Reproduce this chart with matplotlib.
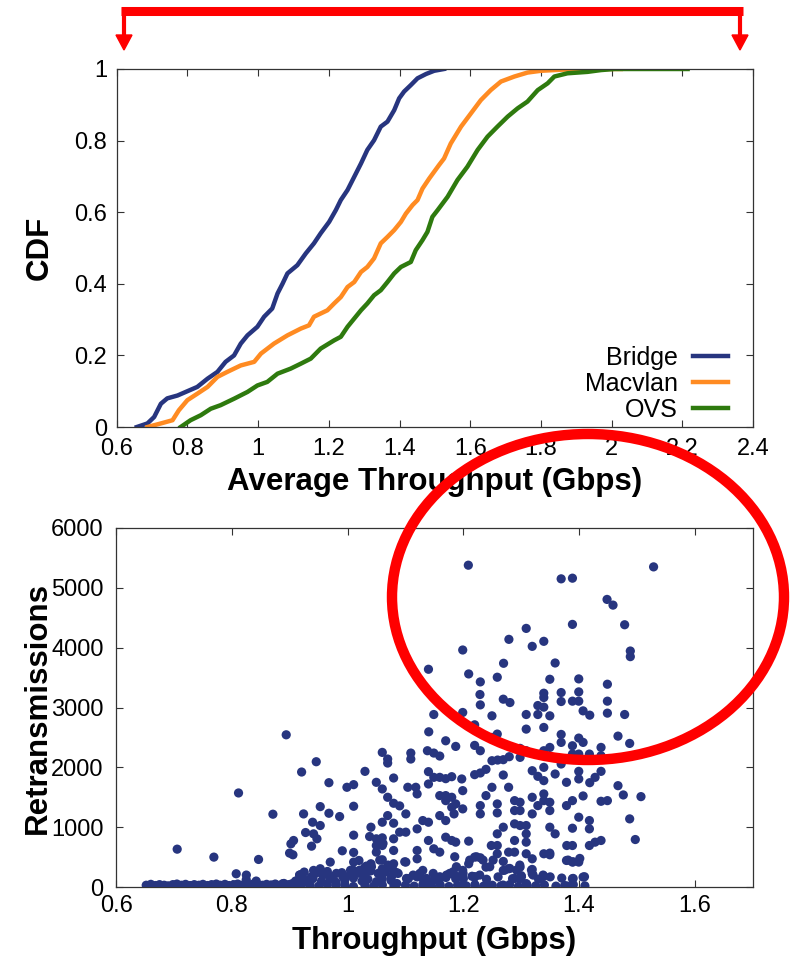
import matplotlib
matplotlib.use("Agg")
import matplotlib.pyplot as plt
from matplotlib.patches import Ellipse, Polygon
from matplotlib.ticker import FuncFormatter

plt.rcParams["font.family"] = ["Liberation Sans", "DejaVu Sans"]

# CDF curves: throughput (Gbps) read at cumulative levels
bridge_tput = [0.657, 0.687, 0.706, 0.725, 0.743, 0.772, 0.800, 0.828, 0.857, 0.885, 0.908,
               0.932, 0.951, 0.970, 0.998, 1.017, 1.040, 1.055, 1.069, 1.083, 1.111, 1.135,
               1.158, 1.177, 1.201, 1.220, 1.234, 1.253, 1.272, 1.291, 1.309, 1.328, 1.347,
               1.366, 1.385, 1.399, 1.413, 1.432, 1.451, 1.475, 1.498, 1.526]
bridge_cdf = [0.0, 0.010, 0.028, 0.065, 0.080, 0.088, 0.100, 0.112, 0.135, 0.154, 0.182,
              0.200, 0.233, 0.256, 0.280, 0.308, 0.331, 0.373, 0.400, 0.429, 0.452, 0.485,
              0.513, 0.541, 0.573, 0.606, 0.634, 0.662, 0.699, 0.736, 0.774, 0.801, 0.839,
              0.853, 0.885, 0.918, 0.937, 0.955, 0.974, 0.986, 0.995, 1.0]

macvlan_tput = [0.687, 0.725, 0.758, 0.776, 0.800, 0.828, 0.857, 0.885, 0.913, 0.951, 0.989,
                1.008, 1.045, 1.083, 1.121, 1.144, 1.158, 1.196, 1.215, 1.234, 1.253, 1.272,
                1.291, 1.309, 1.328, 1.347, 1.366, 1.385, 1.404, 1.418, 1.437, 1.451, 1.465,
                1.484, 1.498, 1.512, 1.526, 1.545, 1.574, 1.602, 1.630, 1.658, 1.687, 1.725,
                1.762, 1.800, 1.857, 1.932, 2.026]
macvlan_cdf = [0.0, 0.010, 0.019, 0.047, 0.075, 0.093, 0.112, 0.140, 0.154, 0.172, 0.182,
               0.205, 0.233, 0.256, 0.275, 0.284, 0.308, 0.326, 0.345, 0.363, 0.391, 0.405,
               0.433, 0.447, 0.471, 0.513, 0.531, 0.550, 0.573, 0.596, 0.620, 0.634, 0.666,
               0.694, 0.713, 0.732, 0.750, 0.792, 0.839, 0.876, 0.913, 0.941, 0.965, 0.979,
               0.990, 0.995, 0.998, 1.0, 1.0]

ovs_tput = [0.781, 0.809, 0.838, 0.866, 0.894, 0.932, 0.970, 0.998, 1.026, 1.055, 1.092,
            1.121, 1.149, 1.177, 1.215, 1.234, 1.253, 1.272, 1.291, 1.309, 1.328, 1.347,
            1.366, 1.385, 1.404, 1.432, 1.446, 1.465, 1.479, 1.493, 1.508, 1.536, 1.564,
            1.592, 1.621, 1.649, 1.677, 1.706, 1.734, 1.762, 1.791, 1.819, 1.838, 1.875,
            1.932, 1.970, 2.008, 2.215]
ovs_cdf = [0.0, 0.019, 0.033, 0.051, 0.061, 0.079, 0.098, 0.116, 0.126, 0.149, 0.163,
           0.177, 0.191, 0.219, 0.242, 0.252, 0.280, 0.303, 0.326, 0.345, 0.368, 0.382,
           0.405, 0.429, 0.447, 0.461, 0.494, 0.522, 0.545, 0.587, 0.606, 0.643, 0.690,
           0.727, 0.774, 0.811, 0.839, 0.867, 0.890, 0.909, 0.941, 0.960, 0.979, 0.988,
           0.992, 0.997, 1.0, 1.0]

# scatter: bridge runs, throughput (Gbps) vs retransmissions
scatter_points = [
    # sparse left part
    (0.7055, 633), (0.7689, 500), (0.8115, 1572), (0.8461, 461), (0.8709, 1217),
    (0.8939, 2544), (0.9066, 778), (0.9020, 722), (0.8997, 567), (0.9055, 539),
    (0.8075, 222), (0.8248, 122), (0.8420, 100), (0.9205, 211), (0.8880, 56), (0.9040, 56),
    (0.8250, 200), (0.9170, 200),
    # 0.92 - 1.09
    (0.9205, 1922), (0.9458, 2094), (0.9677, 1744), (0.9239, 1222), (0.9527, 1344),
    (0.9395, 1083), (0.9527, 1028), (0.9274, 911), (0.9412, 889), (0.9470, 806),
    (0.9377, 683), (0.9677, 1233), (0.9862, 1178), (0.9988, 1667), (1.0104, 1711),
    (1.0104, 1350), (1.0104, 867), (0.9908, 606), (1.0104, 578), (1.0300, 1933),
    (1.0496, 1750), (1.0599, 1639), (1.0692, 1500), (1.0795, 1822), (1.0795, 1400),
    (1.0899, 1356), (1.0692, 2072), (1.0599, 2250), (1.0692, 2139), (1.0403, 1000),
    (1.0599, 1083), (1.0692, 1194), (1.0795, 1067), (1.0899, 917), (1.0380, 844),
    (1.0496, 806), (1.0599, 822), (1.0496, 694), (1.0599, 694), (1.0795, 806),
    (1.0795, 611), (1.0795, 389), (1.0496, 583), (1.0599, 456), (1.0599, 306),
    (1.0403, 389), (1.0104, 417), (1.0196, 444), (1.0300, 333), (1.0104, 222),
    (0.9700, 417), (0.9527, 306), (0.9412, 278), (0.9585, 222), (1.0612, 728),
    (1.0699, 367), (1.0785, 283), (1.0094, 283), (1.0325, 350), (1.0555, 450),
    # 1.09 - 1.55
    (1.2086, 5378), (1.5287, 5350), (1.3690, 5150), (1.3885, 5161), (1.4483, 4806),
    (1.4586, 4711), (1.3885, 4389), (1.4787, 4383), (1.3086, 4322), (1.2787, 4139),
    (1.3390, 4106), (1.3190, 4022), (1.1989, 3961), (1.4885, 3944), (1.4885, 3850),
    (1.1397, 3639), (1.2695, 3739), (1.3586, 3744), (1.2092, 3561), (1.2586, 3506),
    (1.2293, 3428), (1.3494, 3472), (1.3994, 3478), (1.4489, 3389), (1.2287, 3217),
    (1.2293, 3044), (1.3390, 3239), (1.3390, 3167), (1.3690, 3250), (1.3690, 3100),
    (1.3994, 3261), (1.3885, 3106), (1.3994, 3106), (1.2690, 3139), (1.2805, 3083),
    (1.4489, 3106), (1.4489, 2906), (1.4787, 2883), (1.3287, 3033), (1.3390, 3006),
    (1.4069, 2944), (1.4184, 2872), (1.1489, 2883), (1.1989, 2917), (1.2494, 2861),
    (1.3086, 2883), (1.3287, 2883), (1.3494, 2861), (1.3390, 2667), (1.3086, 2639),
    (1.2195, 2711), (1.1402, 2594), (1.1695, 2444), (1.1868, 2350), (1.2195, 2367),
    (1.2293, 2278), (1.2586, 2556), (1.2494, 2500), (1.3690, 2550), (1.3690, 2417),
    (1.3994, 2489), (1.3885, 2361), (1.4069, 2417), (1.3885, 2222), (1.3994, 2222),
    (1.4178, 2222), (1.4379, 2333), (1.4379, 2194), (1.4672, 2522), (1.4874, 2400),
    (1.2980, 2317), (1.2980, 2167), (1.3086, 2278), (1.3390, 2278), (1.3494, 2333),
    (1.1092, 2239), (1.1092, 2139), (1.1379, 2278), (1.1489, 2239), (1.1592, 2189),
    (1.1397, 1928), (1.1489, 1833), (1.1592, 1833), (1.1695, 1811), (1.1799, 1844),
    (1.1972, 1806), (1.2195, 1878), (1.2293, 1906), (1.2391, 1967), (1.2494, 2111),
    (1.2592, 2122), (1.2690, 2128), (1.2793, 2178), (1.2690, 1872), (1.3190, 1944),
    (1.3287, 1850), (1.3390, 2000), (1.3390, 1778), (1.3586, 1889), (1.3690, 2056),
    (1.3782, 1750), (1.3994, 1933), (1.3994, 1806), (1.4184, 1744), (1.4276, 1833),
    (1.4379, 1933), (1.4672, 1694), (1.4764, 1539), (1.5069, 1511), (1.4874, 1139),
    (1.4971, 794), (1.4489, 1444), (1.4379, 1433), (1.4069, 1522), (1.3885, 1444),
    (1.3782, 1361), (1.3994, 1167), (1.3885, 983), (1.4178, 1111), (1.4178, 972),
    (1.4178, 694), (1.4276, 750), (1.4379, 778), (1.3787, 694), (1.3885, 694),
    (1.3782, 444), (1.3885, 417), (1.3994, 417), (1.3885, 139), (1.4069, 167),
    (1.3390, 178), (1.3390, 556), (1.3494, 539), (1.3190, 472), (1.3190, 294),
    (1.3190, 222), (1.3086, 56), (1.2980, 333), (1.2980, 139), (1.3494, 1000),
    (1.3586, 889), (1.3390, 1556), (1.3390, 1444), (1.3287, 1361), (1.3190, 1500),
    (1.3190, 1222), (1.3494, 1417), (1.3494, 1278), (1.2885, 1444), (1.2980, 1417),
    (1.2885, 1278), (1.2980, 1278), (1.2885, 1056), (1.2980, 1028), (1.3086, 1028),
    (1.3086, 889), (1.3086, 750), (1.3086, 556), (1.2885, 778), (1.2782, 1667),
    (1.2494, 1667), (1.2391, 1528), (1.2293, 1361), (1.2293, 1222), (1.2586, 1389),
    (1.2586, 1239), (1.2690, 1000), (1.2586, 889), (1.2483, 694), (1.2586, 694),
    (1.2586, 556), (1.2782, 583), (1.2885, 583), (1.2690, 428), (1.2690, 278),
    (1.2782, 306), (1.2391, 333), (1.2195, 500), (1.2293, 489), (1.2092, 389),
    (1.1989, 278), (1.2092, 767), (1.1868, 750), (1.1799, 778), (1.1695, 833),
    (1.1989, 1611), (1.1799, 1500), (1.1695, 1528), (1.1592, 1528), (1.1695, 1444),
    (1.1799, 1333), (1.1868, 1389), (1.1989, 1306), (1.1839, 1222), (1.1695, 1111),
    (1.1592, 1194), (1.1397, 1083), (1.1299, 1111), (1.1201, 972), (1.1006, 917),
    (1.1006, 1222), (1.1040, 1667), (1.1178, 1667), (1.1201, 1556), (1.1397, 1722),
    (1.1397, 778), (1.1489, 639), (1.1592, 583), (1.1201, 611), (1.1201, 472),
    (1.1006, 417), (1.1299, 278), (1.1299, 139), (1.1592, 139), (1.1799, 222),
    (1.1868, 139), (1.2195, 167), (1.1397, 56), (1.0987, 422),
    (1.1851, 506), (1.1880, 339), (1.1995, 228), (1.2110, 450), (1.2226, 506),
    (1.2340, 450), (1.2197, 172), (1.2283, 200), (1.2399, 33), (1.2456, 339),
    (1.2514, 450), (1.2687, 33), (1.2716, 283), (1.2802, 311), (1.2918, 283),
    (1.2975, 367), (1.2889, 144), (1.3004, 172), (1.3091, 50), (1.3177, 283),
    (1.3205, 200), (1.3378, 200), (1.3494, 567), (1.3810, 450), (1.3897, 422),
    (1.4012, 478), (1.3897, 144), (1.3793, 17), (1.4093, 172), (1.1995, 17),
    (1.1765, 228), (1.1880, 172),
    # dense band near zero
    (0.652, 30), (0.660, 45), (0.668, 25), (0.675, 40), (0.683, 30), (0.690, 20),
    (0.698, 40), (0.705, 50), (0.713, 30), (0.720, 45), (0.728, 25), (0.735, 40),
    (0.743, 30), (0.750, 45), (0.758, 25), (0.765, 40), (0.773, 50), (0.780, 30),
    (0.788, 45), (0.795, 25), (0.803, 40), (0.810, 50), (0.818, 30), (0.830, 40),
    (0.838, 55), (0.845, 40), (0.853, 30), (0.860, 45), (0.868, 35), (0.875, 50),
    (0.883, 30), (0.890, 60), (0.898, 40), (0.900, 20), (0.910, 100), (0.915, 40),
    (0.925, 250), (0.945, 230), (0.965, 260), (0.990, 240), (1.005, 280), (1.020, 230),
    (1.040, 270), (1.065, 250), (1.085, 240),
    (0.920, 120), (0.930, 90), (0.940, 140), (0.955, 100), (0.970, 130), (0.980, 80),
    (0.995, 120), (1.010, 150), (1.025, 100), (1.035, 130), (1.050, 90), (1.060, 140),
    (1.075, 110), (1.085, 60),
    (0.920, 20), (0.935, 40), (0.950, 15), (0.965, 35), (0.980, 20), (0.995, 40),
    (1.010, 10), (1.030, 30), (1.045, 15), (1.060, 35), (1.080, 20),
    (0.9172, 200), (0.9258, 117), (0.9374, 172), (0.9489, 256), (0.9575, 200),
    (0.9720, 172), (0.9806, 228), (0.9921, 172), (1.0037, 200), (1.0123, 256),
    (1.0210, 283), (1.0296, 200), (1.0412, 339), (1.0527, 228), (1.0642, 256),
    (1.0758, 172), (1.0873, 228), (1.1017, 144), (1.1133, 200), (1.1248, 228),
    (1.1363, 144), (1.1479, 228), (1.1594, 172), (1.1709, 200), (1.1825, 256),
    (1.1911, 172),
    (1.100, 30), (1.115, 15), (1.130, 40), (1.145, 20), (1.160, 35), (1.175, 10),
    (1.190, 30), (1.205, 20), (1.220, 40), (1.235, 15), (1.250, 30), (1.265, 20),
    (1.280, 40), (1.295, 10), (1.310, 30), (1.325, 20), (1.340, 35), (1.360, 15),
    (1.375, 25), (1.390, 40), (1.410, 20),
    (1.105, 140), (1.120, 170), (1.150, 120), (1.170, 160), (1.200, 140), (1.215, 180),
    (1.240, 130), (1.260, 170), (1.285, 140), (1.300, 190), (1.330, 130), (1.350, 170),
    (1.370, 150),
]
scatter_tput = [p[0] for p in scatter_points]
scatter_retx = [p[1] for p in scatter_points]

blue = "#27357f"
orange = "#ff8b22"
green = "#2e7a0e"

fig = plt.figure(figsize=(7.9, 9.57), dpi=100)
ax1 = fig.add_axes([0.1477, 0.5538, 0.8055, 0.3741])
ax2 = fig.add_axes([0.1470, 0.0731, 0.8058, 0.3752])

fmt = FuncFormatter(lambda v, p: "%g" % v)

ax1.plot(bridge_tput, bridge_cdf, color=blue, lw=3.2, label="Bridge")
ax1.plot(macvlan_tput, macvlan_cdf, color=orange, lw=3.2, label="Macvlan")
ax1.plot(ovs_tput, ovs_cdf, color=green, lw=3.2, label="OVS")
ax1.set_xlim(0.6, 2.4)
ax1.set_ylim(0, 1)
ax1.set_xticks([0.6, 0.8, 1.0, 1.2, 1.4, 1.6, 1.8, 2.0, 2.2, 2.4])
ax1.set_yticks([0, 0.2, 0.4, 0.6, 0.8, 1.0])
ax1.set_xlabel("Average Throughput (Gbps)", fontsize=22.5, fontweight="bold")
ax1.set_ylabel("CDF", fontsize=22.5, fontweight="bold")
ax1.xaxis.set_label_coords(0.5, -0.153)
ax1.yaxis.set_label_coords(-0.121, 0.5)
ax1.legend(loc="lower right", markerfirst=False, frameon=False, fontsize=18,
           handlelength=1.4, handletextpad=0.6, labelspacing=0.08,
           borderpad=0, borderaxespad=0, bbox_to_anchor=(0.961, 0.015))

ax2.scatter(scatter_tput, scatter_retx, s=44, color=blue, edgecolors="none", zorder=3)
ax2.set_xlim(0.6, 1.7)
ax2.set_ylim(0, 6000)
ax2.set_xticks([0.6, 0.8, 1.0, 1.2, 1.4, 1.6])
ax2.set_yticks([0, 1000, 2000, 3000, 4000, 5000, 6000])
ax2.set_xlabel("Throughput (Gbps)", fontsize=22.5, fontweight="bold")
ax2.set_ylabel("Retransmissions", fontsize=22.5, fontweight="bold")
ax2.xaxis.set_label_coords(0.5, -0.15)
ax2.yaxis.set_label_coords(-0.1225, 0.5)

for ax in (ax1, ax2):
    ax.xaxis.label.set_va("center")
    ax.yaxis.label.set_va("center")
    ax.xaxis.set_major_formatter(fmt)
    ax.yaxis.set_major_formatter(fmt)
    ax.tick_params(direction="in", length=5, width=0.8, labelsize=17,
                   top=True, right=True, color="#333333")
    for sp in ax.spines.values():
        sp.set_linewidth(0.9)
        sp.set_color("#333333")

ax1.tick_params(axis="x", pad=8)
ax1.tick_params(axis="y", pad=7)
ax2.tick_params(axis="x", pad=5.5)
ax2.tick_params(axis="y", pad=9)

# red annotations drawn in pixel coordinates on an overlay
ov = fig.add_axes([0, 0, 1, 1], zorder=10)
ov.set_xlim(0, 790)
ov.set_ylim(957, 0)
ov.axis("off")
ov.patch.set_alpha(0)
ov.plot([121, 743], [10.5, 10.5], color="red", lw=6.5, solid_capstyle="butt")
ov.plot([124, 124], [10, 37], color="red", lw=3)
ov.plot([740, 740], [10, 37], color="red", lw=3)
ov.add_patch(Polygon([[116, 35], [132, 35], [124, 50]], closed=True, color="red"))
ov.add_patch(Polygon([[732, 35], [748, 35], [740, 50]], closed=True, color="red"))
ov.add_patch(Ellipse((588, 597), 392, 326, fill=False, ec="red", lw=7.5))

fig.savefig("out.png", dpi=100)
